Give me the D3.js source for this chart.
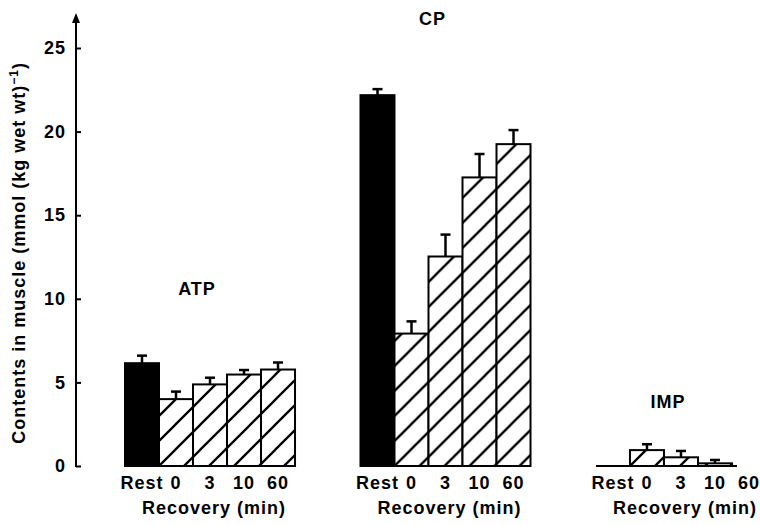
<!DOCTYPE html>
<html>
<head>
<meta charset="utf-8">
<script src="https://cdn.jsdelivr.net/npm/d3@7.9.0/dist/d3.min.js"></script>
<style>
  html, body { margin: 0; padding: 0; background: #fff; }
  svg text { font-family: "Liberation Sans", Arial, sans-serif; font-weight: bold; fill: #000; letter-spacing: 1px; }
</style>
</head>
<body>
<svg id="chart" width="760" height="525"></svg>
<script>
// metabolite groups and sampling times
const groups = ['ATP', 'CP', 'IMP'];
const times = ['Rest', '0', '3', '10', '60'];

// mean contents, mmol (kg wet wt)^-1
const atpValues = [6.15, 4.0, 4.88, 5.47, 5.77];
const atpErrors = [0.45, 0.45, 0.40, 0.27, 0.42];
const cpValues = [22.18, 7.92, 12.53, 17.26, 19.25];
const cpErrors = [0.36, 0.73, 1.31, 1.40, 0.84];
const impValues = [0, 0.95, 0.52, 0.16, 0];
const impErrors = [0, 0.35, 0.38, 0.20, 0];

const yTicks = [0, 5, 10, 15, 20, 25];

const series = {
  ATP: { values: atpValues, errors: atpErrors },
  CP: { values: cpValues, errors: cpErrors },
  IMP: { values: impValues, errors: impErrors }
};

const svg = d3.select('#chart');

const y = d3.scaleLinear().domain([0, 25]).range([466, 48]);
const gx = d3.scaleBand().domain(groups).range([125, 766]).paddingInner(0.278);
const x = d3.scaleBand().domain(times).range([0, gx.bandwidth()]);

// hatch pattern
const defs = svg.append('defs');
const hatch = defs.append('pattern')
  .attr('id', 'hatch')
  .attr('patternUnits', 'userSpaceOnUse')
  .attr('width', 25)
  .attr('height', 25);
hatch.append('rect').attr('width', 25).attr('height', 25).attr('fill', '#fff');
hatch.append('path')
  .attr('d', 'M0,25 L25,0 M-6,6 L6,-6 M19,31 L31,19')
  .attr('stroke', '#000')
  .attr('stroke-width', 2.3);

// y axis
const axisX = 76;
const axis = svg.append('g')
  .attr('transform', `translate(${axisX},0)`)
  .call(d3.axisLeft(y).tickValues(yTicks).tickSizeInner(-5).tickSizeOuter(0).tickPadding(10));
axis.select('.domain').remove();
axis.selectAll('.tick line').attr('stroke', '#000').attr('stroke-width', 2);
axis.selectAll('.tick text')
  .attr('font-size', 18)
  .style('font-family', '"Liberation Sans", Arial, sans-serif')
  .style('font-weight', 'bold');

svg.append('line')
  .attr('x1', axisX).attr('x2', axisX)
  .attr('y1', y(0) + 1).attr('y2', 20)
  .attr('stroke', '#000').attr('stroke-width', 2);
svg.append('path')
  .attr('d', `M${axisX},13 L${axisX - 4},23 L${axisX + 4},23 Z`)
  .attr('fill', '#000');

// y label
const ylab = svg.append('text')
  .attr('transform', `translate(25,${y(12.75)}) rotate(-90)`)
  .attr('text-anchor', 'middle')
  .attr('font-size', 18);
ylab.append('tspan').text('Contents in muscle (mmol (kg wet wt)');
ylab.append('tspan').attr('dy', -7).attr('font-size', 12).text('\u22121');
ylab.append('tspan').attr('dy', 7).text(')');

// groups
const titleLevel = { ATP: 10.2, CP: 26.4, IMP: 3.45 };

groups.forEach(name => {
  const g = svg.append('g').attr('transform', `translate(${gx(name)},0)`);
  const s = series[name];
  const rows = times.map((t, i) => ({ t, v: s.values[i], e: s.errors[i] }));

  // baseline
  g.append('line')
    .attr('x1', 0).attr('x2', x('60') + 5)
    .attr('y1', y(0)).attr('y2', y(0))
    .attr('stroke', '#000').attr('stroke-width', 2);

  // error bars
  rows.filter(d => d.e > 0).forEach(d => {
    const cx = x(d.t) + x.bandwidth() / 2;
    g.append('line')
      .attr('x1', cx).attr('x2', cx)
      .attr('y1', y(d.v)).attr('y2', y(d.v + d.e))
      .attr('stroke', '#000').attr('stroke-width', 2.5);
    g.append('line')
      .attr('x1', cx - 5).attr('x2', cx + 5)
      .attr('y1', y(d.v + d.e)).attr('y2', y(d.v + d.e))
      .attr('stroke', '#000').attr('stroke-width', 2.5);
  });

  // bars
  g.selectAll('rect.bar')
    .data(rows.filter(d => d.v > 0))
    .join('rect')
    .attr('class', 'bar')
    .attr('x', d => x(d.t))
    .attr('y', d => y(d.v))
    .attr('width', x.bandwidth())
    .attr('height', d => y(0) - y(d.v))
    .attr('fill', d => d.t === 'Rest' ? '#000' : 'url(#hatch)')
    .attr('stroke', '#000')
    .attr('stroke-width', 2);

  // time labels
  g.selectAll('text.time')
    .data(times)
    .join('text')
    .attr('class', 'time')
    .attr('x', d => x(d) + x.bandwidth() / 2)
    .attr('y', 489)
    .attr('text-anchor', 'middle')
    .attr('font-size', 18)
    .text(d => d);

  g.append('text')
    .attr('x', gx.bandwidth() / 2 + 4)
    .attr('y', 514)
    .attr('text-anchor', 'middle')
    .attr('font-size', 18)
    .text('Recovery (min)');

  g.append('text')
    .attr('x', 72)
    .attr('y', y(titleLevel[name]))
    .attr('text-anchor', 'middle')
    .attr('font-size', 18)
    .text(name);
});
</script>
</body>
</html>
